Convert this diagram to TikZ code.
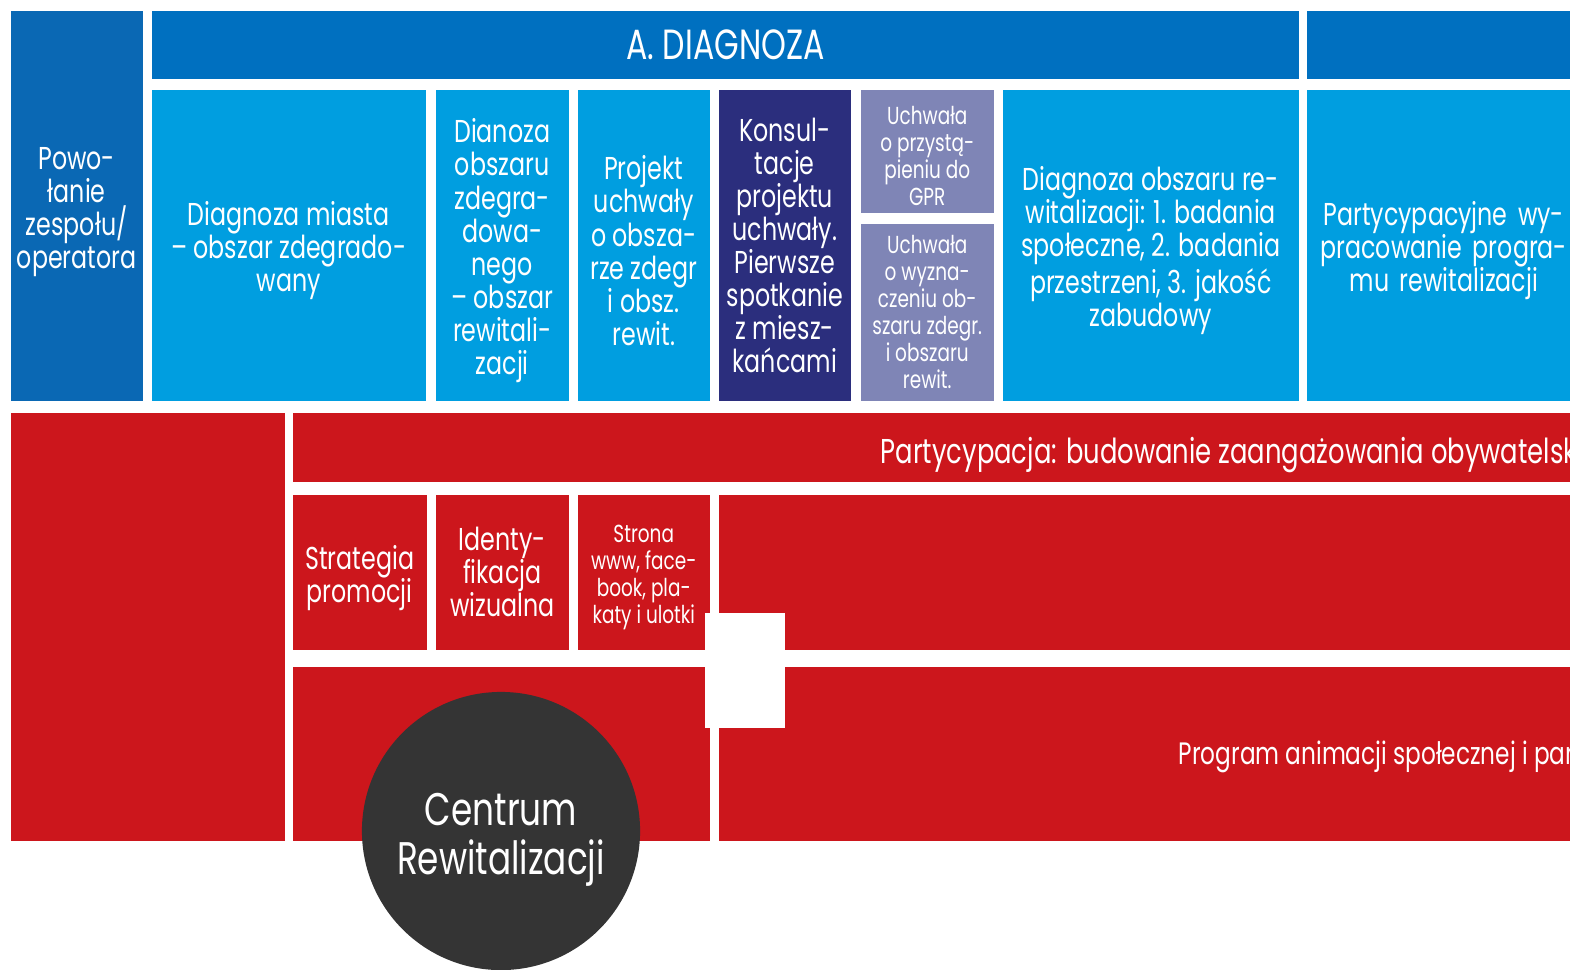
\documentclass[tikz,border=0pt]{standalone}
\usepackage{fontspec}
\setmainfont[FakeStretch=0.75]{Poppins}
\usepackage{xcolor}
\definecolor{ciemny}{RGB}{10,104,180}
\definecolor{naglowek}{RGB}{0,112,192}
\definecolor{jasny}{RGB}{0,158,224}
\definecolor{granat}{RGB}{43,46,125}
\definecolor{fiolet}{RGB}{127,133,182}
\definecolor{czerwony}{RGB}{204,22,28}
\definecolor{grafit}{RGB}{52,52,52}
% strut na poczatek tekstu w bloku
\newcommand{\wys}{\rule{0pt}{1.1em}}

\begin{document}
\begin{tikzpicture}[x=0.01cm, y=-0.01cm,
				blok/.style={rectangle, inner sep=0pt, anchor=north west, text=white, align=center, font=\fontsize{9}{9.4}\selectfont},
				maly/.style={blok, font=\fontsize{7}{7.7}\selectfont},
				niebieski/.style={blok, fill=jasny},
				czerw/.style={blok, fill=czerwony}
				]
				\useasboundingbox (0,0) rectangle (1570,969);
				\clip (0,0) rectangle (1570,969);
				
				% Diagnoza
				\node[blok, fill=ciemny, minimum width=1.32cm, minimum height=3.90cm] (powolanie) at (10,10) {\wys Powo-\\łanie\\zespołu/\\operatora};
				\node[blok, fill=naglowek, minimum width=11.47cm, minimum height=0.68cm, font=\fontsize{12}{12}\selectfont] (diagnoza) at (151,10) {A. DIAGNOZA};
				\node[blok, fill=naglowek, minimum width=2.80cm, minimum height=0.68cm] (naglowek2) at (1306,10) {};
				
				\node[niebieski, minimum width=2.74cm, minimum height=3.11cm] (miasto) at (151,89) {\wys Diagnoza miasta\\– obszar zdegrado-\\wany};
				\node[niebieski, minimum width=1.33cm, minimum height=3.11cm] (obszar) at (435,89) {\wys Dianoza\\obszaru\\zdegra-\\dowa-\\nego\\– obszar\\rewitali-\\zacji};
				\node[niebieski, minimum width=1.32cm, minimum height=3.11cm] (projekt) at (577,89) {\wys Projekt\\uchwały\\o obsza-\\rze zdegr\\i obsz.\\rewit.};
				\node[blok, fill=granat, minimum width=1.32cm, minimum height=3.11cm] (konsultacje) at (718,89) {Konsul-\\tacje\\projektu\\uchwały.\\Pierwsze\\spotkanie\\z miesz-\\kańcami};
				\node[maly, fill=fiolet, minimum width=1.33cm, minimum height=1.23cm] (przystapienie) at (860,89) {\wys Uchwała\\o przystą-\\pieniu do\\GPR};
				\node[maly, fill=fiolet, minimum width=1.33cm, minimum height=1.77cm] (wyznaczenie) at (860,223) {Uchwała\\o wyzna-\\czeniu ob-\\szaru zdegr.\\i obszaru\\rewit.};
				\node[niebieski, minimum width=2.96cm, minimum height=3.11cm] (badania) at (1002,89) {\wys Diagnoza obszaru re-\\witalizacji: 1. badania\\społeczne, 2. badania\\przestrzeni, 3. jakość\\zabudowy};
				\node[niebieski, minimum width=2.74cm, minimum height=3.11cm, text width=2.6cm] (program) at (1306,89) {\wys Partycypacyjne wy-\\pracowanie progra-\\mu rewitalizacji};
				
				% Partycypacja
				\node[czerw, minimum width=2.74cm, minimum height=4.28cm] (lewy) at (10,412) {};
				\node[czerw, minimum width=12.88cm, minimum height=0.69cm] (pasek) at (292,412) {};
				\node[blok, anchor=west, font=\fontsize{9.8}{10}\selectfont] (partycypacja) at (880,449) {\wys Partycypacja: budowanie zaangażowania obywatelsk};
				
				\node[czerw, minimum width=1.34cm, minimum height=1.55cm] (strategia) at (292,494) {\wys Strategia\\promocji};
				\node[czerw, minimum width=1.33cm, minimum height=1.55cm] (identyfikacja) at (435,494) {Identy-\\fikacja\\wizualna};
				\node[czerw, minimum width=1.32cm, minimum height=1.55cm, font=\fontsize{7}{7.7}\selectfont] (strona) at (577,494) {\wys Strona\\www, face-\\book, pla-\\katy i ulotki};
				\node[czerw, minimum width=8.62cm, minimum height=1.55cm] (duzy) at (718,494) {};
				
				\node[czerw, minimum width=4.17cm, minimum height=1.74cm] (dolny) at (292,666) {};
				\node[czerw, minimum width=8.62cm, minimum height=1.74cm] (animacja) at (718,666) {};
				\node[blok, anchor=west, font=\fontsize{8.8}{9}\selectfont] (animacjatekst) at (1178,752) {\wys Program animacji społecznej i par};
				
				\node[blok, fill=white, minimum width=0.80cm, minimum height=1.15cm] (luka) at (704,612) {};
				
				% Centrum
				\node[circle, fill=grafit, minimum size=2.78cm, inner sep=0pt, text=white, align=center, font=\fontsize{13}{14}\selectfont] (centrum) at (501,831) {\wys Centrum\\Rewitalizacji};
			\end{tikzpicture}
\end{document}
